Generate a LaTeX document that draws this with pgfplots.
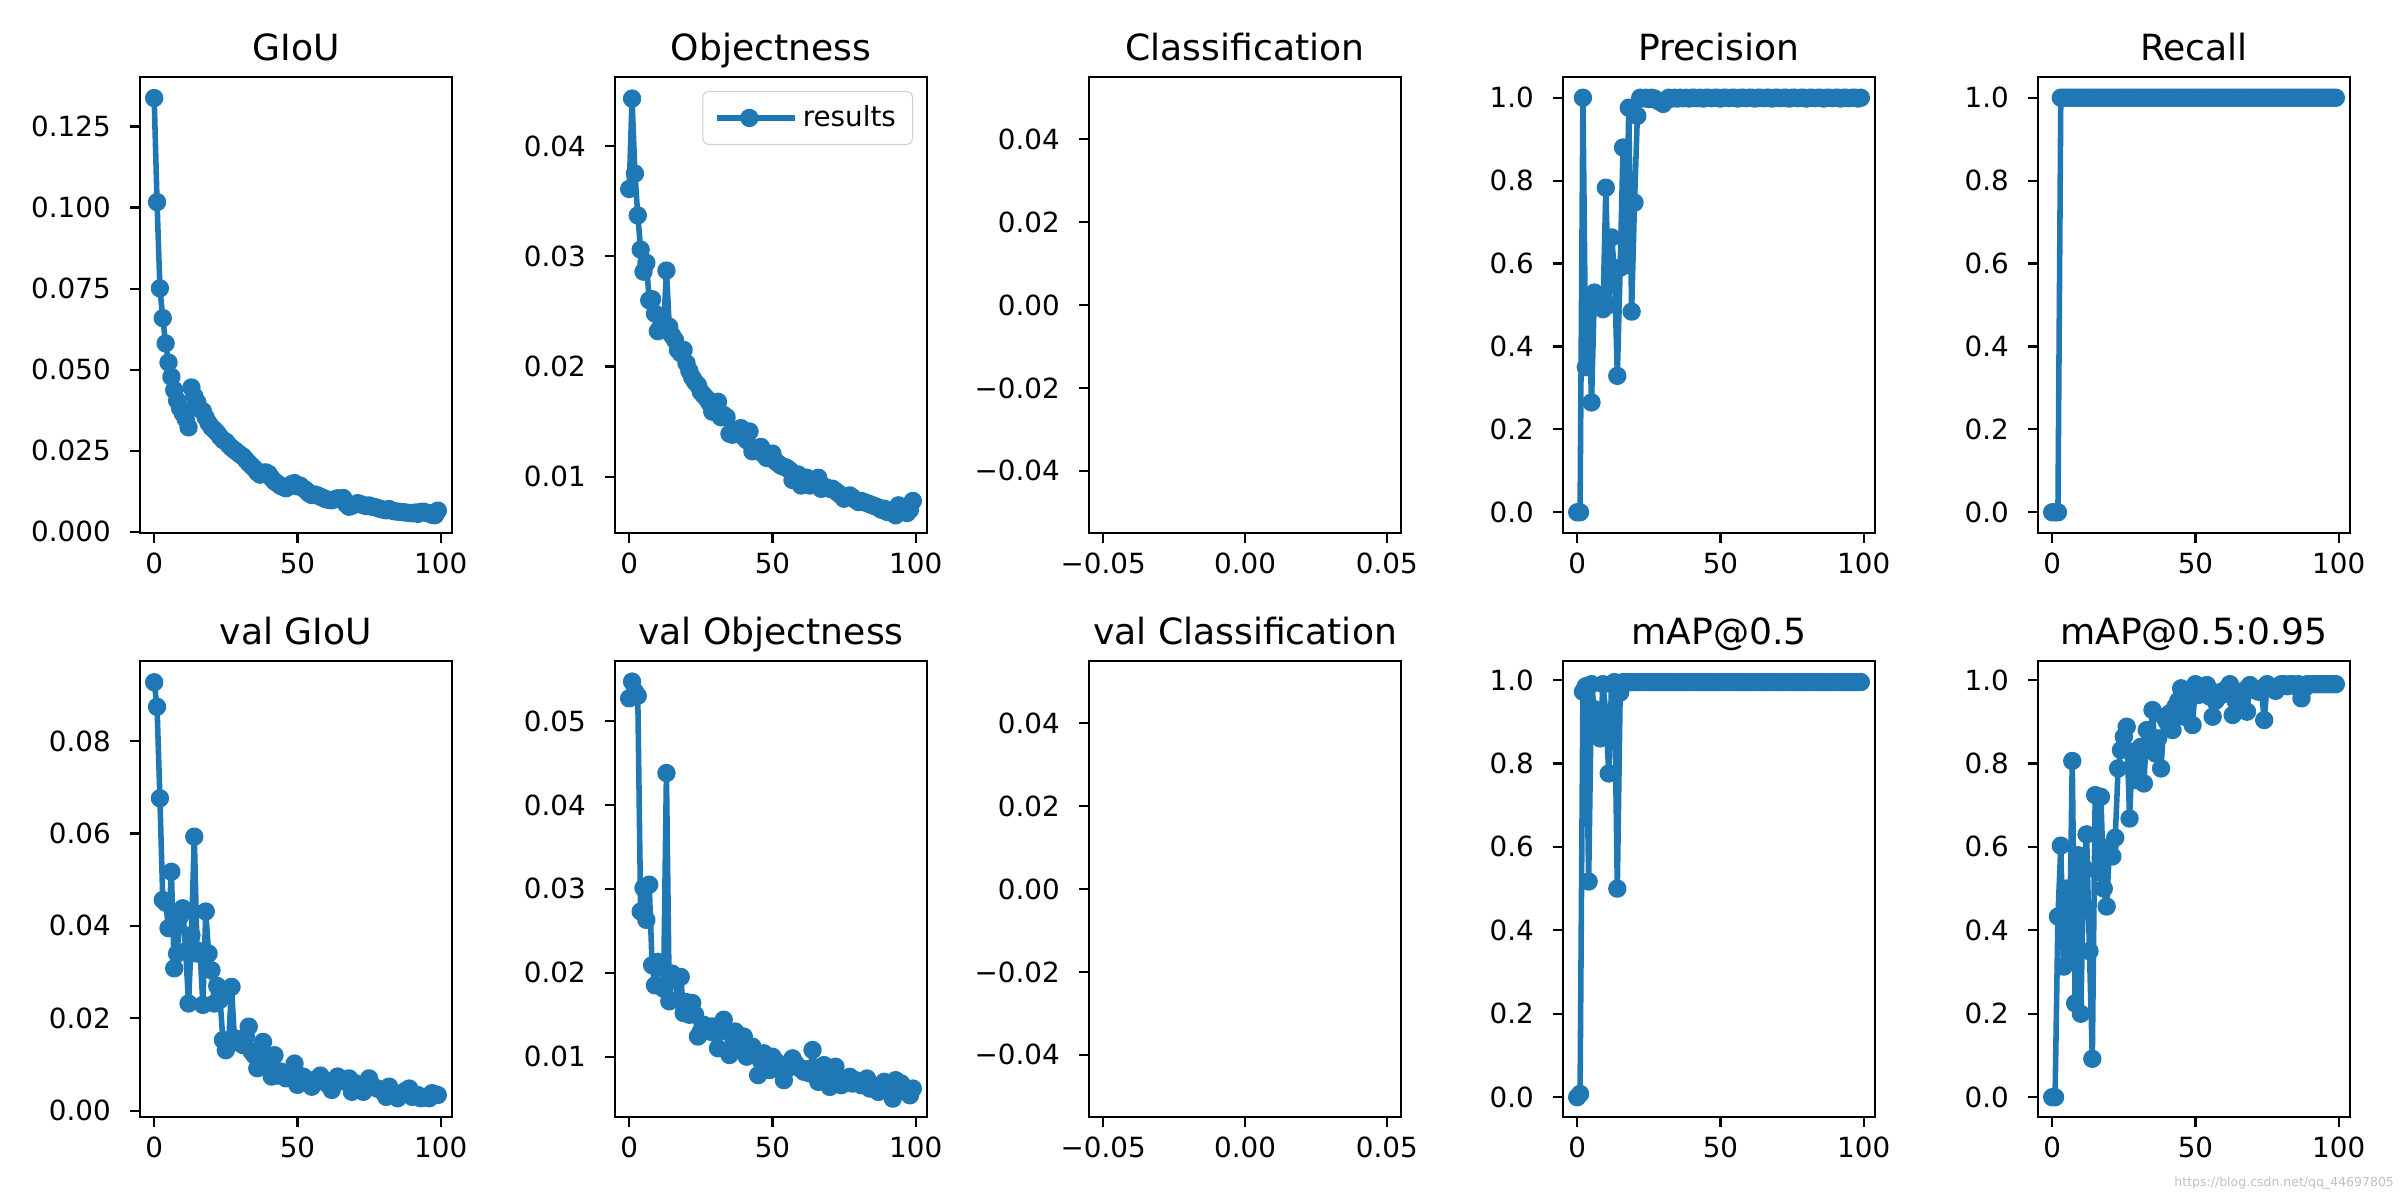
\documentclass[border=0pt]{standalone}
\usepackage{pgfplots}
\pgfplotsset{compat=1.18}
\usepackage{fontspec}
\setmainfont{DejaVu Sans}
\definecolor{mplblue}{RGB}{31,119,180}

\pgfplotsset{
  every axis title/.style={at={(0.5,1)}, anchor=base, yshift=6pt, inner sep=0pt,
    font=\fontsize{13}{15}\selectfont},
  panel/.style={
    scale only axis, width=112.32pt, height=164.16pt, anchor=south west,
    axis line style={line width=0.8pt},
    major tick style={black, line width=0.8pt}, major tick length=3.5pt,
    tick align=outside, tick pos=left,
    xmin=-4.95, xmax=103.95, xtick={0,50,100},
    scaled ticks=false,
    /pgf/number format/assume math mode=true,
    ticklabel style={font=\fontsize{10}{12}\selectfont},
    yticklabel style={xshift=-3.5pt},
  },
  ydec/.style={yticklabel style={/pgf/number format/.cd, fixed, fixed zerofill, precision=#1}},
  series/.style={color=mplblue, line width=2pt, line join=round, mark=*, mark size=2.3pt, mark options={solid}},
}

\begin{document}
\begin{tikzpicture}
\path[use as bounding box] (0,0) rectangle (864pt,432pt);

% ---- row 1 ----
\begin{axis}[panel, at={(50.4pt,240.12pt)}, title={GIoU},
  ymin=-0.0004, ymax=0.1403, ytick={0,0.025,...,0.126}, ydec=3]
\addplot[series] table {
0 0.1338
1 0.1017
2 0.0751
3 0.0659
4 0.0581
5 0.0522
6 0.0478
7 0.0437
8 0.0405
9 0.0382
10 0.0365
11 0.0348
12 0.0322
13 0.0445
14 0.0418
15 0.0400
16 0.0378
17 0.0372
18 0.0352
19 0.0335
20 0.0322
21 0.0314
22 0.0305
23 0.0293
24 0.0283
25 0.0278
26 0.0268
27 0.0259
28 0.0252
29 0.0245
30 0.0238
31 0.0232
32 0.0222
33 0.0212
34 0.0203
35 0.0195
36 0.0183
37 0.0176
38 0.0182
39 0.0183
40 0.0178
41 0.0165
42 0.0155
43 0.0149
44 0.0142
45 0.0138
46 0.0134
47 0.0140
48 0.0147
49 0.0150
50 0.0140
51 0.0142
52 0.0134
53 0.0128
54 0.0118
55 0.0113
56 0.0115
57 0.0112
58 0.0108
59 0.0104
60 0.0100
61 0.0098
62 0.0097
63 0.0100
64 0.0103
65 0.0101
66 0.0104
67 0.0085
68 0.0077
69 0.0080
70 0.0084
71 0.0088
72 0.0085
73 0.0082
74 0.0079
75 0.0081
76 0.0077
77 0.0076
78 0.0073
79 0.0070
80 0.0068
81 0.0066
82 0.0070
83 0.0065
84 0.0063
85 0.0062
86 0.0061
87 0.0060
88 0.0059
89 0.0058
90 0.0057
91 0.0059
92 0.0055
93 0.0061
94 0.0062
95 0.0058
96 0.0057
97 0.0052
98 0.0051
99 0.0065
};
\end{axis}

\begin{axis}[panel, at={(221.4pt,240.12pt)}, title={Objectness},
  ymin=0.00489, ymax=0.04626, ytick={0.01,0.02,0.03,0.04}, ydec=2,
  legend style={at={(1,1)}, anchor=north east, xshift=-5pt, yshift=-5pt,
    draw=black!18, rounded corners=2pt, fill=white,
    font=\fontsize{10}{12}\selectfont, inner xsep=4pt, inner ysep=3pt},
  legend image code/.code={\draw[mark repeat=2, mark phase=2] plot coordinates {(0pt,0pt)(11.75pt,0pt)(23.5pt,0pt)};
    \path (0pt,0pt) -- (28pt,0pt);}]
\addplot[series] table {
0 0.0361
1 0.0443
2 0.0375
3 0.0337
4 0.0306
5 0.0286
6 0.0294
7 0.0260
8 0.0261
9 0.0248
10 0.0232
11 0.0236
12 0.0233
13 0.0287
14 0.0236
15 0.0228
16 0.0224
17 0.0215
18 0.0212
19 0.0215
20 0.0203
21 0.0196
22 0.0190
23 0.0186
24 0.0183
25 0.0177
26 0.0174
27 0.0171
28 0.0167
29 0.0159
30 0.0162
31 0.0168
32 0.0154
33 0.0156
34 0.0154
35 0.0139
36 0.0138
37 0.0141
38 0.0143
39 0.0144
40 0.0136
41 0.0133
42 0.0141
43 0.0123
44 0.0125
45 0.0124
46 0.0127
47 0.0120
48 0.0117
49 0.0118
50 0.0121
51 0.0114
52 0.0112
53 0.0110
54 0.0109
55 0.0108
56 0.0106
57 0.0097
58 0.0100
59 0.0102
60 0.0092
61 0.0097
62 0.0099
63 0.0092
64 0.0094
65 0.0096
66 0.0099
67 0.0089
68 0.0091
69 0.0090
70 0.0089
71 0.0089
72 0.0087
73 0.0085
74 0.0083
75 0.0080
76 0.0082
77 0.0083
78 0.0081
79 0.0079
80 0.0077
81 0.0078
82 0.0077
83 0.0076
84 0.0075
85 0.0074
86 0.0073
87 0.0072
88 0.0070
89 0.0071
90 0.0068
91 0.0069
92 0.0067
93 0.0065
94 0.0074
95 0.0071
96 0.0069
97 0.0067
98 0.0070
99 0.0078
};
\addlegendentry{results}
\end{axis}

\begin{axis}[panel, at={(392.04pt,240.12pt)}, title={Classification},
  xmin=-0.055, xmax=0.055, ymin=-0.055, ymax=0.055,
  xtick={-0.05,0,0.05}, xticklabels={−0.05,0.00,0.05},
  ytick={-0.04,-0.02,0,0.02,0.04}, yticklabels={−0.04,−0.02,0.00,0.02,0.04}]
\end{axis}

\begin{axis}[panel, at={(562.68pt,240.12pt)}, title={Precision},
  ymin=-0.05, ymax=1.05, ytick={0,0.2,...,1.01}, ydec=1]
\addplot[series] table {
0 0
1 0
2 1.0
3 0.35
4 0.52
5 0.265
6 0.53
7 0.50
8 0.52
9 0.49
10 0.783
11 0.50
12 0.663
13 0.586
14 0.329
15 0.59
16 0.88
17 0.596
18 0.976
19 0.484
20 0.747
21 0.956
22 1.0
23 0.998
24 1.0
25 0.997
26 1.0
27 0.998
28 0.993
29 0.99
30 0.985
31 0.995
32 1.0
33 0.998
34 1.0
35 0.998
36 1.0
37 0.999
38 1.0
39 0.998
40 1.0
41 1.0
42 0.999
43 1.0
44 0.998
45 1.0
46 1.0
47 0.999
48 1.0
49 1.0
50 0.998
51 1.0
52 1.0
53 0.999
54 1.0
55 1.0
56 0.998
57 1.0
58 1.0
59 0.999
60 1.0
61 1.0
62 0.998
63 1.0
64 1.0
65 0.999
66 1.0
67 1.0
68 0.998
69 1.0
70 1.0
71 0.999
72 1.0
73 1.0
74 0.998
75 1.0
76 1.0
77 0.999
78 1.0
79 1.0
80 0.998
81 1.0
82 1.0
83 0.999
84 1.0
85 1.0
86 0.998
87 1.0
88 1.0
89 0.999
90 1.0
91 1.0
92 0.998
93 1.0
94 1.0
95 0.999
96 1.0
97 1.0
98 0.998
99 1.0
};
\end{axis}

\begin{axis}[panel, at={(733.68pt,240.12pt)}, title={Recall},
  ymin=-0.05, ymax=1.05, ytick={0,0.2,...,1.01}, ydec=1]
\addplot[series] table {
0 0
1 0
2 0
3 1
4 1
5 1
6 1
7 1
8 1
9 1
10 1
11 1
12 1
13 1
14 1
15 1
16 1
17 1
18 1
19 1
20 1
21 1
22 1
23 1
24 1
25 1
26 1
27 1
28 1
29 1
30 1
31 1
32 1
33 1
34 1
35 1
36 1
37 1
38 1
39 1
40 1
41 1
42 1
43 1
44 1
45 1
46 1
47 1
48 1
49 1
50 1
51 1
52 1
53 1
54 1
55 1
56 1
57 1
58 1
59 1
60 1
61 1
62 1
63 1
64 1
65 1
66 1
67 1
68 1
69 1
70 1
71 1
72 1
73 1
74 1
75 1
76 1
77 1
78 1
79 1
80 1
81 1
82 1
83 1
84 1
85 1
86 1
87 1
88 1
89 1
90 1
91 1
92 1
93 1
94 1
95 1
96 1
97 1
98 1
99 1
};
\end{axis}

% ---- row 2 ----
\begin{axis}[panel, at={(50.4pt,29.88pt)}, title={val GIoU},
  ymin=-0.00136, ymax=0.0973, ytick={0,0.02,0.04,0.06,0.08}, ydec=2]
\addplot[series] table {
0 0.0927
1 0.0874
2 0.0676
3 0.0456
4 0.0450
5 0.0395
6 0.0517
7 0.0308
8 0.0340
9 0.0420
10 0.0438
11 0.0345
12 0.0232
13 0.0380
14 0.0593
15 0.0340
16 0.0345
17 0.0229
18 0.0431
19 0.0340
20 0.0304
21 0.0232
22 0.0270
23 0.0240
24 0.0153
25 0.0131
26 0.0150
27 0.0268
28 0.0157
29 0.0150
30 0.0146
31 0.0142
32 0.0160
33 0.0182
34 0.0128
35 0.0120
36 0.0092
37 0.0110
38 0.0149
39 0.0106
40 0.0100
41 0.0074
42 0.0120
43 0.0076
44 0.0085
45 0.0080
46 0.0070
47 0.0078
48 0.0082
49 0.0102
50 0.0056
51 0.0065
52 0.0074
53 0.0068
54 0.0060
55 0.0052
56 0.0066
57 0.0070
58 0.0076
59 0.0068
60 0.0060
61 0.0055
62 0.0045
63 0.0062
64 0.0074
65 0.0068
66 0.0064
67 0.0068
68 0.0070
69 0.0041
70 0.0060
71 0.0056
72 0.0052
73 0.0041
74 0.0058
75 0.0070
76 0.0055
77 0.0050
78 0.0048
79 0.0045
80 0.0040
81 0.0030
82 0.0052
83 0.0040
84 0.0036
85 0.0027
86 0.0035
87 0.0040
88 0.0044
89 0.0048
90 0.0030
91 0.0032
92 0.0034
93 0.0027
94 0.0030
95 0.0028
96 0.0027
97 0.0038
98 0.0035
99 0.0034
};
\end{axis}

\begin{axis}[panel, at={(221.4pt,29.88pt)}, title={val Objectness},
  ymin=0.00281, ymax=0.05715, ytick={0.01,0.02,0.03,0.04,0.05}, ydec=2]
\addplot[series] table {
0 0.0527
1 0.0547
2 0.0535
3 0.0530
4 0.0273
5 0.0301
6 0.0263
7 0.0305
8 0.0209
9 0.0185
10 0.0213
11 0.0210
12 0.0181
13 0.0438
14 0.0166
15 0.0199
16 0.0195
17 0.0168
18 0.0195
19 0.0152
20 0.0165
21 0.0150
22 0.0164
23 0.0150
24 0.0124
25 0.0130
26 0.0138
27 0.0135
28 0.0130
29 0.0136
30 0.0128
31 0.0110
32 0.0135
33 0.0144
34 0.0130
35 0.0102
36 0.0125
37 0.0130
38 0.0118
39 0.0112
40 0.0124
41 0.0100
42 0.0110
43 0.0112
44 0.0105
45 0.0078
46 0.0095
47 0.0104
48 0.0092
49 0.0084
50 0.0100
51 0.0095
52 0.0092
53 0.0088
54 0.0072
55 0.0085
56 0.0090
57 0.0098
58 0.0092
59 0.0088
60 0.0085
61 0.0082
62 0.0085
63 0.0080
64 0.0108
65 0.0085
66 0.0070
67 0.0080
68 0.0090
69 0.0075
70 0.0064
71 0.0078
72 0.0088
73 0.0075
74 0.0066
75 0.0072
76 0.0070
77 0.0076
78 0.0068
79 0.0072
80 0.0070
81 0.0066
82 0.0068
83 0.0074
84 0.0062
85 0.0066
86 0.0064
87 0.0058
88 0.0062
89 0.0070
90 0.0062
91 0.0058
92 0.0050
93 0.0072
94 0.0064
95 0.0068
96 0.0060
97 0.0058
98 0.0054
99 0.0062
};
\end{axis}

\begin{axis}[panel, at={(392.04pt,29.88pt)}, title={val Classification},
  xmin=-0.055, xmax=0.055, ymin=-0.055, ymax=0.055,
  xtick={-0.05,0,0.05}, xticklabels={−0.05,0.00,0.05},
  ytick={-0.04,-0.02,0,0.02,0.04}, yticklabels={−0.04,−0.02,0.00,0.02,0.04}]
\end{axis}

\begin{axis}[panel, at={(562.68pt,29.88pt)}, title={mAP@0.5},
  ymin=-0.0475, ymax=1.0455, ytick={0,0.2,...,1.01}, ydec=1]
\addplot[series] table {
0 0.0
1 0.008
2 0.972
3 0.985
4 0.517
5 0.99
6 0.93
7 0.892
8 0.86
9 0.99
10 0.92
11 0.776
12 0.99
13 0.995
14 0.50
15 0.97
16 0.995
17 0.995
18 0.995
19 0.995
20 0.995
21 0.995
22 0.995
23 0.995
24 0.995
25 0.995
26 0.995
27 0.995
28 0.995
29 0.995
30 0.995
31 0.995
32 0.995
33 0.995
34 0.995
35 0.995
36 0.995
37 0.995
38 0.995
39 0.995
40 0.995
41 0.995
42 0.995
43 0.995
44 0.995
45 0.995
46 0.995
47 0.995
48 0.995
49 0.995
50 0.995
51 0.995
52 0.995
53 0.995
54 0.995
55 0.995
56 0.995
57 0.995
58 0.995
59 0.995
60 0.995
61 0.995
62 0.995
63 0.995
64 0.995
65 0.995
66 0.995
67 0.995
68 0.995
69 0.995
70 0.995
71 0.995
72 0.995
73 0.995
74 0.995
75 0.995
76 0.995
77 0.995
78 0.995
79 0.995
80 0.995
81 0.995
82 0.995
83 0.995
84 0.995
85 0.995
86 0.995
87 0.995
88 0.995
89 0.995
90 0.995
91 0.995
92 0.995
93 0.995
94 0.995
95 0.995
96 0.995
97 0.995
98 0.995
99 0.995
};
\end{axis}

\begin{axis}[panel, at={(733.68pt,29.88pt)}, title={mAP@0.5:0.95},
  ymin=-0.0475, ymax=1.0455, ytick={0,0.2,...,1.01}, ydec=1]
\addplot[series] table {
0 0.0
1 0.0
2 0.433
3 0.603
4 0.313
5 0.50
6 0.345
7 0.806
8 0.225
9 0.58
10 0.20
11 0.55
12 0.63
13 0.35
14 0.092
15 0.724
16 0.54
17 0.72
18 0.50
19 0.457
20 0.60
21 0.577
22 0.622
23 0.788
24 0.832
25 0.864
26 0.888
27 0.668
28 0.828
29 0.760
30 0.80
31 0.840
32 0.752
33 0.880
34 0.85
35 0.928
36 0.824
37 0.86
38 0.788
39 0.912
40 0.90
41 0.92
42 0.880
43 0.936
44 0.95
45 0.98
46 0.912
47 0.95
48 0.96
49 0.892
50 0.99
51 0.964
52 0.975
53 0.97
54 0.988
55 0.96
56 0.912
57 0.95
58 0.97
59 0.964
60 0.975
61 0.98
62 0.99
63 0.916
64 0.95
65 0.97
66 0.964
67 0.975
68 0.924
69 0.988
70 0.98
71 0.975
72 0.972
73 0.98
74 0.904
75 0.99
76 0.985
77 0.98
78 0.974
79 0.985
80 0.99
81 0.99
82 0.985
83 0.99
84 0.99
85 0.985
86 0.99
87 0.956
88 0.98
89 0.99
90 0.99
91 0.99
92 0.99
93 0.99
94 0.99
95 0.99
96 0.99
97 0.99
98 0.99
99 0.99
};
\end{axis}

\node[anchor=east, text=black!25, font=\fontsize{4.5}{5}\selectfont, inner sep=0pt] at (862pt,6pt) {https://blog.csdn.net/qq\_44697805};
\end{tikzpicture}
\end{document}
